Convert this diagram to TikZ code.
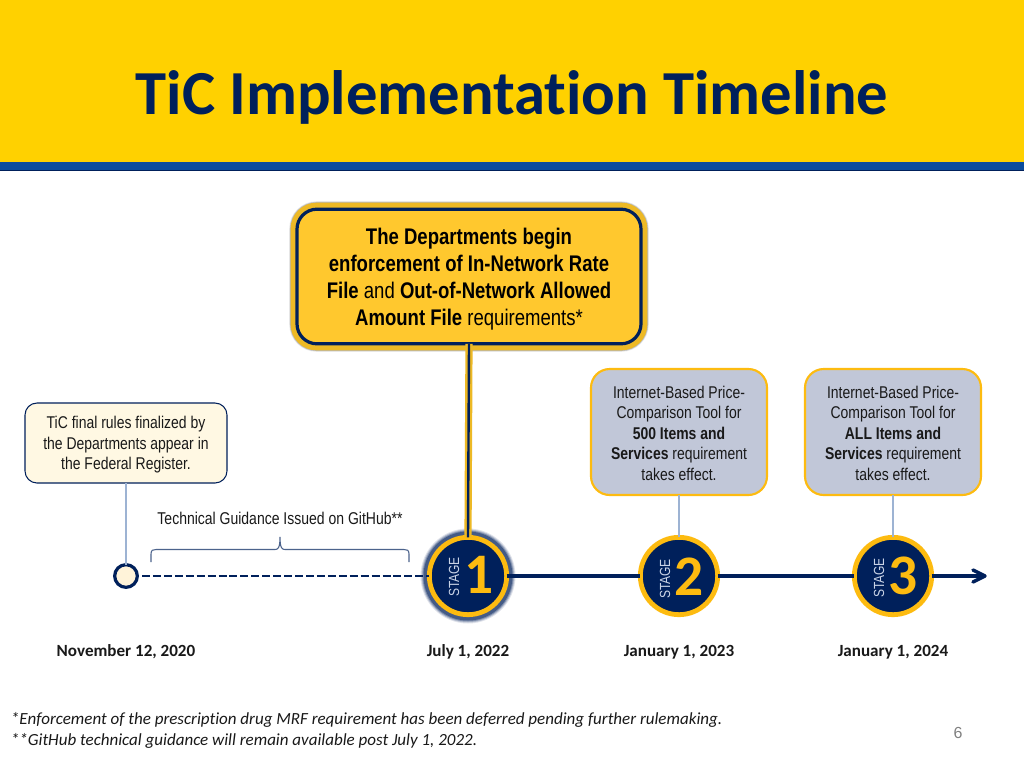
\documentclass[tikz,border=0pt]{standalone}
\usepackage{fontspec}
\setmainfont{Liberation Sans}
\newfontfamily\carl[Ligatures={NoCommon,TeX}]{Carlito}
\newfontfamily\nar[FakeStretch=0.82]{Liberation Sans}
\definecolor{hdr}{HTML}{FFD100}
\definecolor{band}{HTML}{0B4C9E}
\definecolor{navy}{HTML}{00205B}
\definecolor{mainfill}{HTML}{FFC82E}
\definecolor{rim}{HTML}{EDB925}
\definecolor{ring}{HTML}{FDBB10}
\definecolor{cream}{HTML}{FFF8E3}
\definecolor{dotfill}{HTML}{FFF3D9}
\definecolor{slate}{HTML}{C1C7D8}
\definecolor{stem}{HTML}{9DB3D3}
\definecolor{stagetxt}{HTML}{C9D3E6}
\tikzset{
 x=0.75pt,y=-0.75pt,
 every node/.style={inner sep=0pt,outer sep=0pt},
 mainbox/.style={draw=navy,line width=2.4pt,fill=mainfill,rounded corners=15pt,minimum width=258pt,minimum height=101pt,align=center,text=black,font=\nar\fontsize{16.96}{20.3}\selectfont},
 notebox/.style={draw=navy,line width=0.8pt,fill=cream,rounded corners=9pt,minimum width=151.5pt,minimum height=60pt,align=center,text=black!90,font=\nar\fontsize{12.77}{15.4}\selectfont},
 reqbox/.style={draw=ring,line width=1.6pt,fill=slate,rounded corners=14pt,minimum width=132pt,minimum height=94.5pt,align=center,text=black!90,font=\nar\fontsize{12.77}{15.4}\selectfont},
 stagedisc/.style={circle,draw=ring,line width=3.6pt,fill=navy,minimum size=58pt},
 stagelab/.style={rotate=90,text=stagetxt,font=\nar\fontsize{11}{13}\selectfont},
 stagenum/.style={text=ring,font=\carl\bfseries\fontsize{43}{43}\selectfont},
 datelab/.style={anchor=base,text=black!90,font=\carl\bfseries\fontsize{12.8}{15}\selectfont},
 footlab/.style={text=black!90,anchor=base west,font=\carl\itshape\fontsize{12.75}{15}\selectfont},
 stemline/.style={draw=stem,line width=0.9pt},
 axis/.style={draw=navy,line width=2.8pt},
}
\begin{document}
\begin{tikzpicture}
\useasboundingbox (0,0) rectangle (1024,768);
\fill[white] (0,0) rectangle (1024,768);
\fill[hdr] (0,0) rectangle (1024,162);
\fill[band] (0,162) rectangle (1024,170);
\fill[navy] (0,170) rectangle (1024,171);
\node[text=navy,font=\carl\bfseries\fontsize{47}{52}\selectfont] (title) at (512,97) {TiC Implementation Timeline};

% main box with rim and soft shadow
\foreach \w/\o in {7.2/0.10,6.4/0.18,5.8/0.25}{
  \draw[black!60,line width=\w pt,opacity=\o,rounded corners=17pt] (294,206) rectangle (644,347);
}
\draw[rim,line width=5pt,rounded corners=17pt] (294,206) rectangle (644,347);
\node[mainbox] (m) at (469,276.5) {\rule{0pt}{16.8pt}\bfseries The Departments begin\\ \bfseries enforcement of In-Network Rate\\ \textbf{File} and \textbf{Out-of-Network Allowed}\\ \textbf{Amount File} requirements*};

\node[notebox] (n0) at (126,443) {\rule{0pt}{12.3pt}TiC final rules finalized by\\the Departments appear in\\the Federal Register.};
\node[reqbox] (n2) at (679,432) {\rule{0pt}{10.8pt}Internet-Based Price-\\Comparison Tool for\\\textbf{500 Items and}\\\textbf{Services} requirement\\takes effect.};
\node[reqbox] (n3) at (893,432) {\rule{0pt}{10.8pt}Internet-Based Price-\\Comparison Tool for\\\textbf{ALL Items and}\\\textbf{Services} requirement\\takes effect.};

% stage 1 glow
\foreach \r/\o in {47.5/0.12,46.5/0.2,45.5/0.3,44.5/0.45}{
  \fill[navy,opacity=\o] (468,576) circle[radius=\r*0.75pt];
}
\node[circle,draw=navy,line width=2.4pt,fill=dotfill,minimum size=17pt] (s0) at (126,576) {};
\node[stagedisc] (s1) at (468,576) {};
\node[stagedisc] (s2) at (679,576) {};
\node[stagedisc] (s3) at (893,576) {};
\node[stagelab] (l1) at (454,577) {STAGE};
\node[stagelab] (l2) at (665,579) {STAGE};
\node[stagelab] (l3) at (879,578) {STAGE};
\node[stagenum] (d1) at (479,575) {1};
\node[stagenum] (d2) at (689,577) {2};
\node[stagenum] (d3) at (903,576) {3};

\coordinate (end) at (985,576);
\coordinate (dashstart) at (142,576);
\draw[stemline] (n0.south) -- (s0.north);
\draw[stemline] (n2.south) -- (s2.north);
\draw[stemline] (n3.south) -- (s3.north);
\draw[rim,line width=5.4pt] (m.south) -- (s1.north);
\draw[navy,line width=1.8pt] (m.south) -- (s1.north);
\draw[navy,line width=1.8pt,dash pattern=on 6pt off 2.2pt] (dashstart) -- (s1.west);
\draw[axis] (s1.east) -- (s2.west);
\draw[axis] (s2.east) -- (s3.west);
\draw[axis] (s3.east) -- (end);
\draw[navy,line width=2.6pt,line cap=round,line join=round] (973,570) -- (end) -- (973,582);

% brace
\draw[draw=navy!70!white,line width=0.8pt] (151,562) -- (151,554) .. controls (151,550) and (153,549.5) .. (156,549.5) -- (275,549.5) .. controls (278,549.5) and (280,548) .. (280,537) .. controls (280,548) and (282,549.5) .. (285,549.5) -- (404,549.5) .. controls (407,549.5) and (409,550) .. (409,554) -- (409,562);
\node[text=black!90,font=\nar\fontsize{12.8}{15}\selectfont] (gh) at (280,518.5) {Technical Guidance Issued on GitHub**};

\node[datelab] (t0) at (126,656) {November 12, 2020};
\node[datelab] (t1) at (468,656) {July 1, 2022};
\node[datelab] (t2) at (679,656) {January 1, 2023};
\node[datelab] (t3) at (893,656) {January 1, 2024};
\node[footlab] (f1) at (11,724) {*Enforcement of the prescription drug MRF requirement has been deferred pending further rulemaking.};
\node[footlab] (f2) at (11,745) {**GitHub technical guidance will remain available post July 1, 2022.};
\node[text=black!50,font=\fontsize{12}{14}\selectfont] (pg) at (958,733) {6};
\end{tikzpicture}
\end{document}
